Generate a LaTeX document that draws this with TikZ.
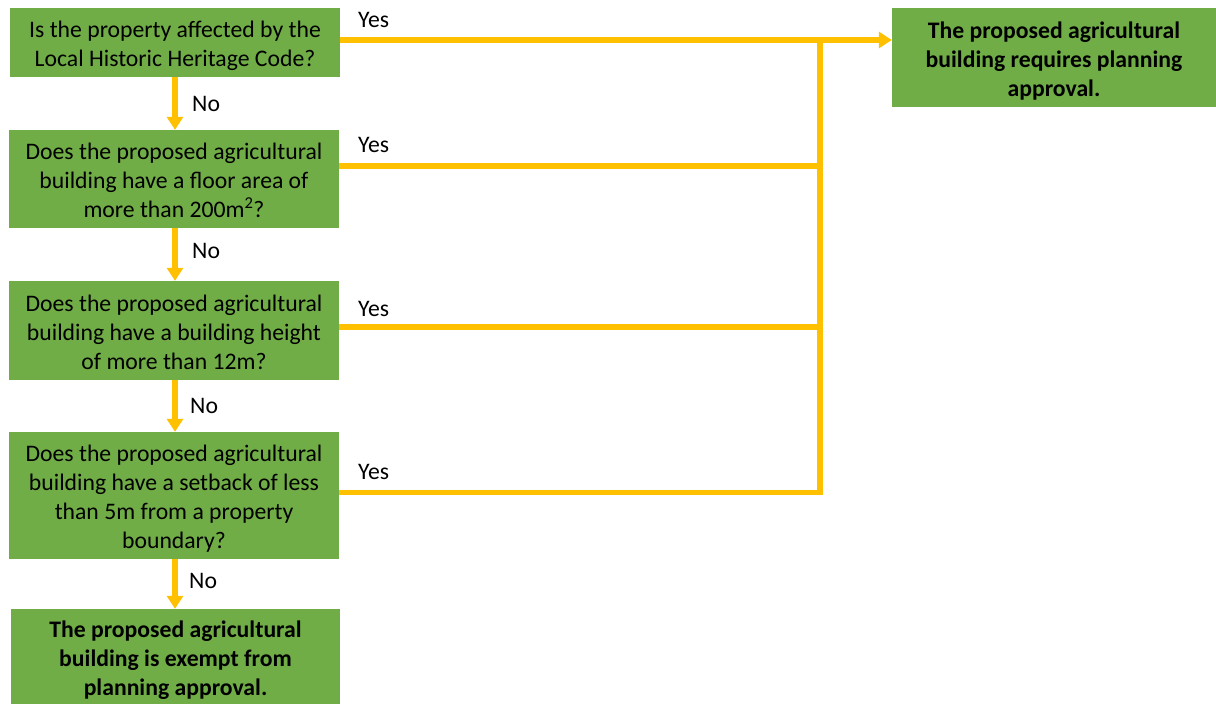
\documentclass[tikz,border=0pt]{standalone}
\usepackage{fontspec}
\setmainfont{Carlito}
\usetikzlibrary{arrows.meta}
\definecolor{boxgreen}{HTML}{70AD47}
\definecolor{lineyellow}{HTML}{FFC000}
\newcommand\boxtext[1]{\raisebox{-4pt}[\height][\depth]{\begin{tabular}{@{}c@{}}#1\end{tabular}}}
\begin{document}
\begin{tikzpicture}[x=1pt,y=-1pt,
  qbox/.style={fill=boxgreen, draw=none, inner sep=0pt, align=center,
    font=\fontsize{23.7}{29}\selectfont, text=black},
  conn/.style={draw=lineyellow, line width=5.5pt, line join=miter},
  tip/.style={-{Triangle[length=13pt,width=16pt]}},
  lbl/.style={font=\fontsize{23.7}{29}\selectfont, inner sep=0pt, anchor=west, text=black}]
\useasboundingbox (0,0) rectangle (1216,704);

\node[qbox, minimum width=330pt, minimum height=69pt] (q1) at (175,42.5)
  {\boxtext{Is the property affected by the\\Local Historic Heritage Code?}};
\node[qbox, minimum width=330pt, minimum height=98pt] (q2) at (174,179)
  {\boxtext{Does the proposed agricultural\\building have a floor area of\\more than 200m\textsuperscript{2}?}};
\node[qbox, minimum width=330pt, minimum height=99pt] (q3) at (174,330.5)
  {\boxtext{Does the proposed agricultural\\building have a building height\\of more than 12m?}};
\node[qbox, minimum width=330pt, minimum height=127pt] (q4) at (174,495.5)
  {\boxtext{Does the proposed agricultural\\building have a setback of less\\than 5m from a property\\boundary?}};
\node[qbox, minimum width=329pt, minimum height=95pt, font=\fontsize{23.7}{29}\selectfont\bfseries] (ex) at (175.5,656.5)
  {\boxtext{The proposed agricultural\\building is exempt from\\planning approval.}};
\node[qbox, minimum width=324pt, minimum height=99pt, font=\fontsize{23.7}{29}\selectfont\bfseries] (req) at (1054,57.5)
  {\boxtext{The proposed agricultural\\building requires planning\\approval.}};

\coordinate (t1) at (820,40);

% vertical "No" arrows
\draw[conn,tip] (q1.south -| 175,0) -- (q2.north -| 175,0);
\draw[conn,tip] (q2.south -| 175,0) -- (q3.north -| 175,0);
\draw[conn,tip] (q3.south -| 175,0) -- (q4.north -| 175,0);
\draw[conn,tip] (q4.south -| 175,0) -- (ex.north -| 175,0);

% "Yes" connectors
\draw[conn,tip] ([yshift=2.5pt]q1.east) -- ([yshift=2.5pt]q1.east -| req.west);
\draw[conn] ([yshift=13pt]q2.east) -- ([yshift=13pt]q2.east -| t1);
\draw[conn] ([yshift=3.5pt]q3.east) -- ([yshift=3.5pt]q3.east -| t1);
\draw[conn] ([yshift=3pt]q4.east) -| (t1);

% labels
\node[lbl] (y1) at (358,20) {Yes};
\node[lbl] (y2) at (358,145) {Yes};
\node[lbl] (y3) at (358,309) {Yes};
\node[lbl] (y4) at (358,472) {Yes};
\node[lbl] (n1) at (192,104) {No};
\node[lbl] (n2) at (192,251) {No};
\node[lbl] (n3) at (190,406) {No};
\node[lbl] (n4) at (189,581) {No};
\end{tikzpicture}
\end{document}
